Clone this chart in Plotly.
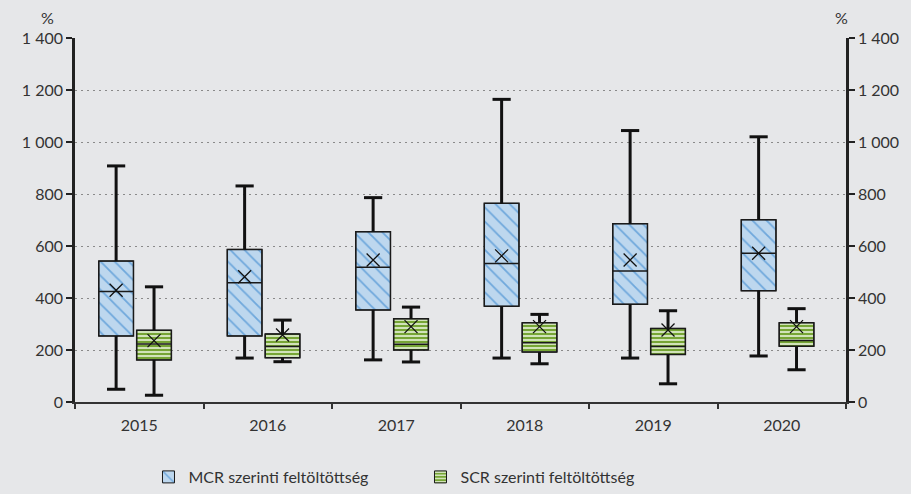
import plotly.graph_objects as go

# ----------------------------
# Data (%)
# ----------------------------
years = ["2015", "2016", "2017", "2018", "2019", "2020"]

mcr_min = [49, 169, 162, 169, 169, 177]
mcr_q1 = [254, 254, 354, 368, 376, 428]
mcr_median = [425, 459, 518, 533, 504, 572]
mcr_q3 = [542, 587, 655, 764, 686, 701]
mcr_max = [908, 831, 786, 1164, 1044, 1020]
mcr_mean = [430, 482, 546, 562, 546, 572]

scr_min = [26, 155, 154, 147, 70, 124]
scr_q1 = [162, 170, 200, 192, 183, 214]
scr_median = [223, 213, 222, 228, 213, 237]
scr_q3 = [276, 262, 320, 305, 283, 305]
scr_max = [443, 315, 365, 337, 351, 359]
scr_mean = [236, 258, 290, 290, 277, 290]

y_ticks = [0, 200, 400, 600, 800, 1000, 1200, 1400]
y_ticktext = ["0", "200", "400", "600", "800", "1 000", "1 200", "1 400"]

series_names = ["MCR szerinti feltöltöttség", "SCR szerinti feltöltöttség"]

# ----------------------------
# Styling
# ----------------------------
BG = "#E6E7E9"
INK = "#1A1A1A"
TEXT = "#333333"
FONT = "Lato"
BOX_W = 0.27
OFFSETS = [-0.18, 0.115]

series = [
    dict(name=series_names[0], lo=mcr_min, q1=mcr_q1, med=mcr_median, q3=mcr_q3,
         hi=mcr_max, mean=mcr_mean,
         pattern=dict(shape="\\", fgcolor="#6FA8DC", bgcolor="#BDD7EE",
                      size=10, solidity=0.18, fillmode="replace")),
    dict(name=series_names[1], lo=scr_min, q1=scr_q1, med=scr_median, q3=scr_q3,
         hi=scr_max, mean=scr_mean,
         pattern=dict(shape="-", fgcolor="#DCEAC8", bgcolor="#76A535",
                      size=4, solidity=0.45, fillmode="replace")),
]

fig = go.Figure()

idx = list(range(len(years)))

# patterned box bodies (bars from Q1 to Q3)
for s, off in zip(series, OFFSETS):
    xs = [i + off for i in idx]
    fig.add_trace(go.Bar(
        x=xs,
        y=[b - a for a, b in zip(s["q1"], s["q3"])],
        base=s["q1"],
        width=BOX_W,
        name=s["name"],
        marker=dict(color=s["pattern"]["bgcolor"], pattern=s["pattern"],
                    line=dict(color=INK, width=1)),
        showlegend=True,
    ))

# outlines + median
for s, off in zip(series, OFFSETS):
    xs = [i + off for i in idx]
    fig.add_trace(go.Box(
        x=xs,
        q1=s["q1"], median=s["med"], q3=s["q3"],
        lowerfence=s["q1"], upperfence=s["q3"],
        width=BOX_W,
        fillcolor="rgba(0,0,0,0)",
        line=dict(color=INK, width=1.5),
        boxpoints=False,
        showlegend=False,
        hoverinfo="skip",
    ))

# whiskers, caps and mean markers
for s, off in zip(series, OFFSETS):
    xs = [i + off for i in idx]
    wx, wy = [], []
    for x, lo, q1, q3, hi in zip(xs, s["lo"], s["q1"], s["q3"], s["hi"]):
        wx += [x, x, None, x, x, None]
        wy += [q3, hi, None, lo, q1, None]
    fig.add_trace(go.Scatter(
        x=wx, y=wy, mode="lines",
        line=dict(color="#111111", width=3),
        showlegend=False, hoverinfo="skip",
    ))
    fig.add_trace(go.Scatter(
        x=xs + xs, y=s["hi"] + s["lo"], mode="markers",
        marker=dict(symbol="line-ew", size=13,
                    line=dict(color="#111111", width=3)),
        showlegend=False, hoverinfo="skip",
    ))
    fig.add_trace(go.Scatter(
        x=xs, y=s["mean"], mode="markers",
        marker=dict(symbol="x-thin", size=13,
                    line=dict(color="#111111", width=1.3)),
        showlegend=False, hoverinfo="skip",
    ))

# invisible trace to anchor right axis
fig.add_trace(go.Scatter(x=[0], y=[0], yaxis="y2", mode="markers",
                         marker=dict(opacity=0), showlegend=False,
                         hoverinfo="skip"))

axis_font = dict(family=FONT, size=16, color=TEXT)

fig.update_layout(
    width=911, height=494,
    paper_bgcolor=BG, plot_bgcolor=BG,
    margin=dict(l=75, r=63, t=38, b=92),
    barmode="overlay",
    boxmode="overlay",
    font=axis_font,
    xaxis=dict(
        range=[-0.5, len(years) - 0.5],
        tickvals=idx, ticktext=years,
        ticks="", showgrid=False, zeroline=False,
        showline=True, linecolor="#333333", linewidth=2,
        ticklabelstandoff=8,
        minor=dict(tick0=-0.5, dtick=1, ticks="outside", ticklen=5,
                   tickwidth=2, tickcolor="#333333", showgrid=False),
        tickfont=axis_font,
    ),
    yaxis=dict(
        range=[0, 1400], tickvals=y_ticks, ticktext=y_ticktext,
        ticks="outside", ticklen=6, tickwidth=2, tickcolor="#222222",
        showline=True, linecolor="#222222", linewidth=2.5,
        showgrid=True, gridcolor="#8A8A8A", gridwidth=1, griddash="2px,4px",
        zeroline=False, tickfont=axis_font,
    ),
    yaxis2=dict(
        range=[0, 1400], tickvals=y_ticks, ticktext=y_ticktext,
        overlaying="y", side="right",
        ticks="outside", ticklen=6, tickwidth=2, tickcolor="#222222",
        showline=True, linecolor="#222222", linewidth=2.5,
        showgrid=False, zeroline=False, tickfont=axis_font,
    ),
    legend=dict(
        orientation="h",
        xref="container", yref="container",
        x=0.163, y=0.0, xanchor="left", yanchor="bottom",
        font=dict(family=FONT, size=16, color=TEXT),
        entrywidth=227, entrywidthmode="pixels",
        bgcolor="rgba(0,0,0,0)",
    ),
    showlegend=True,
)

for xp in [47, 843]:
    fig.add_annotation(
        text="%", xref="paper", yref="paper",
        x=(xp - 75) / (911 - 75 - 63), y=1.055,
        showarrow=False, xanchor="center", yanchor="middle",
        font=dict(family=FONT, size=16, color=TEXT),
    )

fig.write_html("out.html", config={"displayModeBar": False},
               post_script="document.body.style.margin='0';")
